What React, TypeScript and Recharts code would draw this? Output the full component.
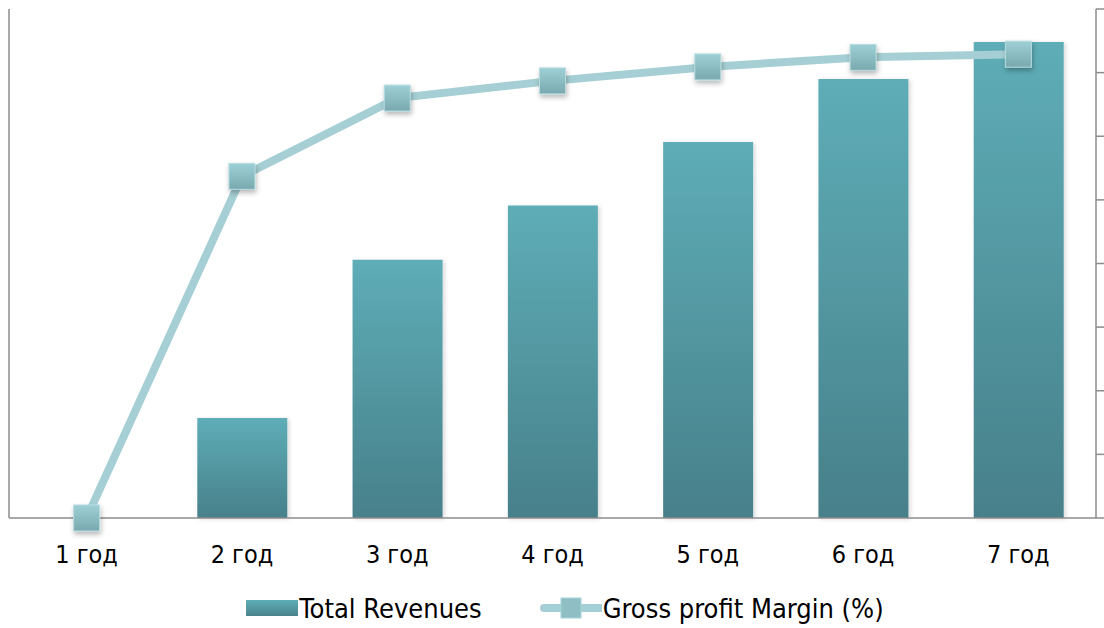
import { Bar, ComposedChart, Legend, Line, XAxis, YAxis } from "recharts";

const years = ["1 год", "2 год", "3 год", "4 год", "5 год", "6 год", "7 год"];
const totalRevenues = [0, 157, 406, 491, 591, 690, 748];
const grossMargin = [0, 53.7, 66, 68.7, 70.9, 72.4, 72.9];
const marginTicks = [0, 10, 20, 30, 40, 50, 60, 70, 80];

const data = years.map((year, i) => ({
  year,
  revenues: totalRevenues[i],
  margin: grossMargin[i],
}));

const font = "'DejaVu Sans Condensed', 'Liberation Sans Narrow', 'DejaVu Sans', sans-serif";
const axisColor = "#8c8c8c";

function SquareDot(props: any) {
  const { cx, cy } = props;
  if (cx == null || cy == null) return null;
  return (
    <rect
      x={cx - 13}
      y={cy - 13}
      width={26}
      height={26}
      fill="url(#dotFill)"
      stroke="#b8dce0"
      strokeWidth={1}
      filter="url(#shadow)"
    />
  );
}

function LegendBox() {
  return (
    <div
      style={{
        height: 50,
        display: "flex",
        justifyContent: "center",
        alignItems: "center",
        fontFamily: font,
        fontStretch: "condensed",
        fontSize: 27,
        color: "#000",
        paddingTop: 10,
        paddingLeft: 18,
        boxSizing: "border-box",
      }}
    >
      <svg width={52} height={18} style={{ marginRight: 1 }}>
        <defs>
          <linearGradient id="legBar" x1="0" x2="0" y1="0" y2="1">
            <stop offset="0%" stopColor="#5eadb7" />
            <stop offset="100%" stopColor="#4a838b" />
          </linearGradient>
        </defs>
        <rect x={0} y={1} width={52} height={16} fill="url(#legBar)" />
      </svg>
      <span>Total Revenues</span>
      <svg width={62} height={22} style={{ marginLeft: 58, marginRight: 1 }}>
        <line x1={4} x2={60} y1={11} y2={11} stroke="#a5cfd4" strokeWidth={8} strokeLinecap="round" />
        <rect x={21} y={1} width={20} height={20} fill="#8fbfc5" stroke="#a8d3d8" />
      </svg>
      <span>Gross profit Margin (%)</span>
    </div>
  );
}

export default function App() {
  return (
    <div style={{ position: "absolute", left: 0, top: 0, width: 1104, height: 628, background: "#fff" }}>
      <ComposedChart width={1104} height={628} data={data} margin={{ top: 9, right: 0, bottom: 0, left: 8 }} barSize={90}>
        <defs>
          <linearGradient id="barFill" x1="0" x2="0" y1="0" y2="1">
            <stop offset="0%" stopColor="#5eadb7" />
            <stop offset="100%" stopColor="#47808a" />
          </linearGradient>
          <linearGradient id="dotFill" x1="0" x2="0" y1="0" y2="1">
            <stop offset="0%" stopColor="#9dd0d6" />
            <stop offset="100%" stopColor="#79a9af" />
          </linearGradient>
          <filter id="shadow" x="-30%" y="-30%" width="160%" height="160%">
            <feDropShadow dx="1" dy="3" stdDeviation="2.5" floodColor="#000" floodOpacity="0.28" />
          </filter>
          <filter id="barShadow" x="-10%" y="-10%" width="120%" height="120%">
            <feDropShadow dx="2" dy="1" stdDeviation="2" floodColor="#000" floodOpacity="0.15" />
          </filter>
        </defs>
        <XAxis
          dataKey="year"
          height={60}
          tickLine={false}
          tickMargin={21}
          axisLine={{ stroke: axisColor, strokeWidth: 1.5 }}
          tick={{ fill: "#000", fontSize: 25, fontFamily: font, style: { fontStretch: "condensed" } }}
          interval={0}
        />
        <YAxis
          yAxisId="left"
          width={1}
          domain={[0, 800]}
          tickLine={false}
          tick={false}
          axisLine={{ stroke: axisColor, strokeWidth: 1.5 }}
        />
        <YAxis
          yAxisId="right"
          orientation="right"
          width={8}
          domain={[0, 80]}
          ticks={marginTicks}
          tickSize={8}
          tickFormatter={() => ""}
          tickLine={{ stroke: axisColor, strokeWidth: 1.5 }}
          axisLine={{ stroke: axisColor, strokeWidth: 1.5 }}
        />
        <Legend verticalAlign="bottom" content={() => <LegendBox />} />
        <Bar
          yAxisId="left"
          dataKey="revenues"
          name="Total Revenues"
          fill="url(#barFill)"
          filter="url(#barShadow)"
          isAnimationActive={false}
        />
        <Line
          yAxisId="right"
          dataKey="margin"
          name="Gross profit Margin (%)"
          type="linear"
          stroke="#a5cfd4"
          strokeWidth={8}
          dot={<SquareDot />}
          activeDot={false}
          isAnimationActive={false}
        />
      </ComposedChart>
    </div>
  );
}
